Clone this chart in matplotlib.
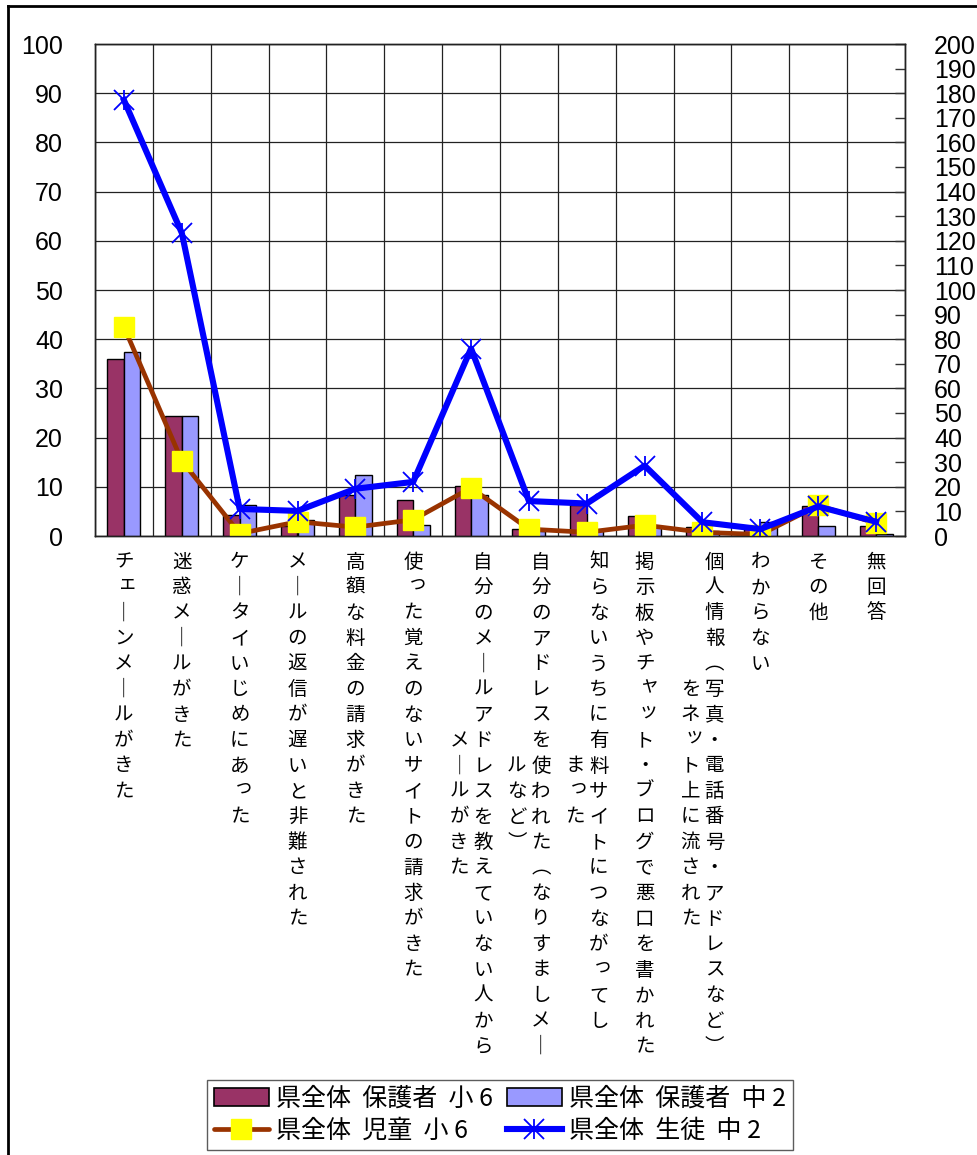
import numpy as np
import matplotlib
matplotlib.use('Agg')
import matplotlib.pyplot as plt
from matplotlib.lines import Line2D
from matplotlib.patches import Patch
from matplotlib.transforms import blended_transform_factory

plt.rcParams['font.family'] = ['Noto Sans CJK JP', 'DejaVu Sans']

# --- data -------------------------------------------------------------
categories = [
    ['チェーンメールがきた'],
    ['迷惑メールがきた'],
    ['ケータイいじめにあった'],
    ['メールの返信が遅いと非難された'],
    ['高額な料金の請求がきた'],
    ['使った覚えのないサイトの請求がきた'],
    ['自分のメールアドレスを教えていない人から', 'メールがきた'],
    ['自分のアドレスを使われた（なりすましメー', 'ルなど）'],
    ['知らないうちに有料サイトにつながってし', 'まった'],
    ['掲示板やチャット・ブログで悪口を書かれた'],
    ['個人情報（写真・電話番号・アドレスなど）', 'をネット上に流された'],
    ['わからない'],
    ['その他'],
    ['無回答'],
]
parent_sho6 = [36.0, 24.4, 4.3, 2.0, 8.4, 7.3, 10.2, 1.4, 6.2, 4.1, 1.9, 1.5, 6.0, 2.0]
parent_chu2 = [37.3, 24.4, 6.2, 3.3, 12.3, 2.2, 8.4, 1.0, 1.2, 1.8, 1.0, 2.9, 2.0, 0.5]
child_sho6 = [42.5, 15.3, 0.5, 2.9, 1.8, 3.3, 9.8, 1.4, 0.75, 2.2, 0.75, 0.3, 6.2, 2.6]
student_chu2 = [88.6, 61.6, 5.5, 5.1, 9.6, 11.0, 38.1, 7.1, 6.6, 14.3, 2.8, 1.4, 6.0, 2.9]
series_labels = ['県全体  保護者  小 6', '県全体  保護者  中 2',
                 '県全体  児童  小 6', '県全体  生徒  中 2']

# vertical-writing glyph forms
VERT = {'ー': '｜', '（': '︵', '）': '︶'}
SMALL = set('ぁぃぅぇぉっゃゅょァィゥェォッャュョ')

W, H = 978, 1155
fig = plt.figure(figsize=(W / 100, H / 100), dpi=100)
ax = fig.add_axes([95 / W, 1 - 536 / H, 810 / W, 492 / H])
ax2 = ax.twinx()

x = np.arange(len(categories))
bw = 0.285
ax.bar(x - bw / 2, parent_sho6, bw, color='#993366', edgecolor='black', linewidth=1, zorder=3)
ax.bar(x + bw / 2, parent_chu2, bw, color='#9999FF', edgecolor='black', linewidth=1, zorder=3)
ln1, = ax.plot(x, child_sho6, color='#993300', lw=3.4, marker='s', ms=14,
               mfc='#FFFF00', mec='#FFFF00', zorder=4, solid_capstyle='round')
ln2, = ax.plot(x, student_chu2, color='#0000FF', lw=4.4, marker='x', ms=14,
               mec='#0000FF', mew=1.3, zorder=5, solid_joinstyle='round')
ln3, = ax.plot(x, student_chu2, ls='none', marker='|', ms=14,
               mec='#0000FF', mew=1.3, zorder=5)

ax.set_xlim(-0.5, len(categories) - 0.5)
ax.set_ylim(0, 100)
ax.set_yticks(np.arange(0, 101, 10))
ax.set_xticks(np.arange(len(categories) + 1) - 0.5)
ax.set_xticklabels([])
ax.tick_params(axis='x', length=0)
ax.tick_params(axis='y', length=0, pad=23, labelsize=18)
ax.grid(True, color='#222222', lw=0.9, zorder=0)
ax.set_axisbelow(True)

ax2.set_ylim(0, 200)
ax2.set_yticks(np.arange(0, 201, 10))
ax2.tick_params(axis='y', direction='in', length=7, width=1, pad=21, labelsize=18,
                color='#333333')
for a in (ax, ax2):
    for lab in a.get_yticklabels():
        lab.set_family(['Liberation Sans', 'DejaVu Sans'])
    for s in a.spines.values():
        s.set_color('#222222')
        s.set_linewidth(1)

# vertical category labels, one glyph per text
tr = blended_transform_factory(ax.transData, fig.transFigure)
step = 25.5
y0 = 562
unit_px = 810 / len(categories)
col_dx = 12.0 / unit_px
for i, cols in enumerate(categories):
    n1 = len(cols[0])
    for c, line in enumerate(cols):
        if len(cols) == 1:
            cx = i
        else:
            cx = i + col_dx if c == 0 else i - col_dx
        start = 0 if c == 0 else (n1 - len(line)) / 2
        for k, ch in enumerate(line):
            py = y0 + (start + k) * step
            dx = 0
            if ch in SMALL:
                dx = 4 / unit_px
                py -= 4
            ax.text(cx + dx, 1 - py / H, VERT.get(ch, ch), transform=tr,
                    ha='center', va='center', fontsize=14, clip_on=False)

# legend
h1 = Patch(facecolor='#993366', edgecolor='black', lw=1.2)
h2 = Patch(facecolor='#9999FF', edgecolor='black', lw=1.2)
leg = fig.legend([h1, ln1, h2, (ln2, ln3)],
                 [series_labels[0], series_labels[2], series_labels[1], series_labels[3]],
                 ncol=2, loc='center', bbox_to_anchor=(500 / W, 1 - 1115 / H),
                 fontsize=18, frameon=True, fancybox=False, edgecolor='#333333',
                 handlelength=2.2, handleheight=0.72, handletextpad=0.3,
                 columnspacing=0.55, labelspacing=0.25, borderpad=0.25, borderaxespad=0)
leg.get_frame().set_linewidth(1)

# outer chart frame (left and top edges visible)
fig.add_artist(Line2D([8 / W, 8 / W], [0, 1 - 6 / H], color='black', lw=2))
fig.add_artist(Line2D([8 / W, 1], [1 - 6 / H, 1 - 6 / H], color='black', lw=2))

fig.savefig('out.png', dpi=100)
